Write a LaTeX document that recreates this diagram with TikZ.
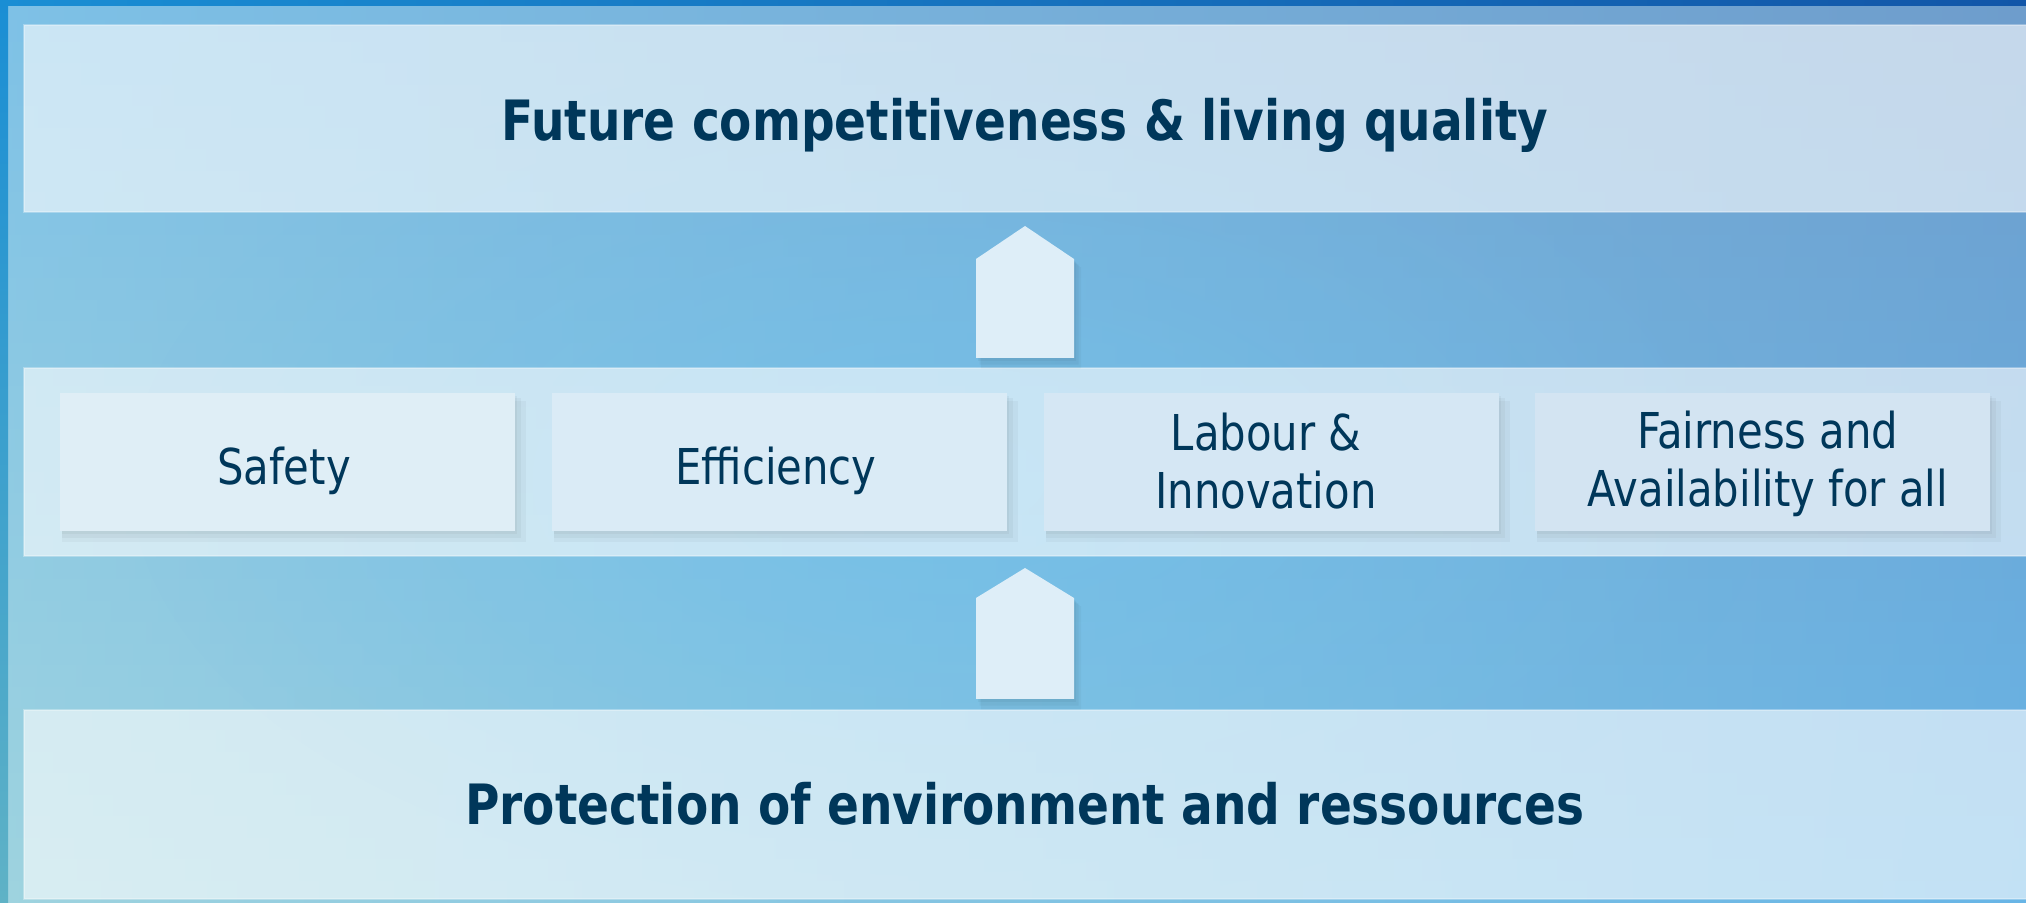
\documentclass[tikz,border=0pt]{standalone}
\usepackage{fontspec}
\usepackage{graphicx}
\newfontfamily\dvc{DejaVu Sans Condensed}
\usetikzlibrary{shadows,fadings}
\definecolor{txt}{HTML}{00375A}
\definecolor{bgTL}{HTML}{7EC1E6}
\definecolor{bgTR}{HTML}{6E9DCC}
\definecolor{bgBL}{HTML}{9ED3DF}
\definecolor{bgBR}{HTML}{68B5E6}
\definecolor{glow}{HTML}{6AC4F2}
\definecolor{frameL}{HTML}{1A8ED4}
\definecolor{frameR}{HTML}{1256A8}
\definecolor{frameB}{HTML}{5FB2C6}
\definecolor{boxA}{HTML}{DFEEF6}
\definecolor{boxB}{HTML}{DAEBF6}
\definecolor{boxC}{HTML}{D5E7F4}
\definecolor{boxD}{HTML}{D3E4F2}
\definecolor{arrowfill}{HTML}{DEEEF8}
\tikzfading[name=glowfade, inner color=transparent!55, outer color=transparent!100]
\newcommand{\sqz}[1]{\scalebox{0.94}[1]{\begin{tabular}[t]{@{}c@{}}#1\end{tabular}}}
\begin{document}
\begin{tikzpicture}[x=0.5pt,y=-0.5pt,
  panel/.style={fill=white, fill opacity=0.6, draw=white, draw opacity=0.3,
    line width=0.75pt, inner sep=0pt, minimum width=1003pt},
  softshadow/.style={
    general shadow={fill=black, opacity=0.035, shadow xshift=1pt, shadow yshift=-1.5pt, shadow scale=1.0},
    general shadow={fill=black, opacity=0.035, shadow xshift=2pt, shadow yshift=-3pt, shadow scale=1.01},
    general shadow={fill=black, opacity=0.03, shadow xshift=3pt, shadow yshift=-4.5pt, shadow scale=1.02}},
  itembox/.style={softshadow, inner sep=0pt, minimum width=227.5pt, minimum height=69pt},
  itemtext/.style={text=txt, inner sep=0pt, anchor=base, font=\dvc\fontsize{24.7}{28.75}\selectfont},
  headline/.style={text=txt, inner sep=0pt, anchor=base, font=\dvc\bfseries\fontsize{27.8}{30}\selectfont},
  uparrow/.style={fill=arrowfill, softshadow}
]
\useasboundingbox (0,0) rectangle (2026,903);
% background
\foreach \i in {0,...,41}{
  \pgfmathtruncatemacro\p{round(100*\i/41)}
  \colorlet{cL}{bgBL!\p!bgTL}
  \colorlet{cR}{bgBR!\p!bgTR}
  \shade[left color=cL, right color=cR] (0,{\i*21.5-0.5}) rectangle (2026,{\i*21.5+22});
}
\fill[glow, path fading=glowfade] (950,480) ellipse [x radius=820, y radius=430];
% frame strips
\shade[left color=frameL, right color=frameR] (0,0) rectangle (2026,6);
\shade[top color=frameL, bottom color=frameB] (0,0) rectangle (8,903);

% panels
\node[panel, minimum height=93.5pt] (top) at (1027,118.5) {};
\node[panel, minimum height=94pt] (band) at (1027,462) {};
\node[panel, minimum height=94.5pt] (bottom) at (1027,804.5) {};

\node[headline] (toptext) at (1025,141) {\sqz{Future competitiveness \& living quality}};
\node[headline] (bottomtext) at (1025,824) {\sqz{Protection of environment and ressources}};

% arrows
\fill[uparrow] (976,358) -- (976,259) -- (1025,226) -- (1074,259) -- (1074,358) -- cycle;
\fill[uparrow] (976,699) -- (976,598) -- (1025,568) -- (1074,598) -- (1074,699) -- cycle;

% items
\node[itembox, fill=boxA] (b1) at (287.5,462) {};
\node[itembox, fill=boxB] (b2) at (779.5,462) {};
\node[itembox, fill=boxC] (b3) at (1271.5,462) {};
\node[itembox, fill=boxD] (b4) at (1762.5,462) {};
\node[itemtext] (t1) at (284,485) {\sqz{Safety}};
\node[itemtext] (t2) at (776,485) {\sqz{Efficiency}};
\node[itemtext] (t3) at (1266,451) {\sqz{Labour \&\\Innovation}};
\node[itemtext] (t4) at (1768,449) {\sqz{Fairness and\\Availability for all}};
\end{tikzpicture}
\end{document}
